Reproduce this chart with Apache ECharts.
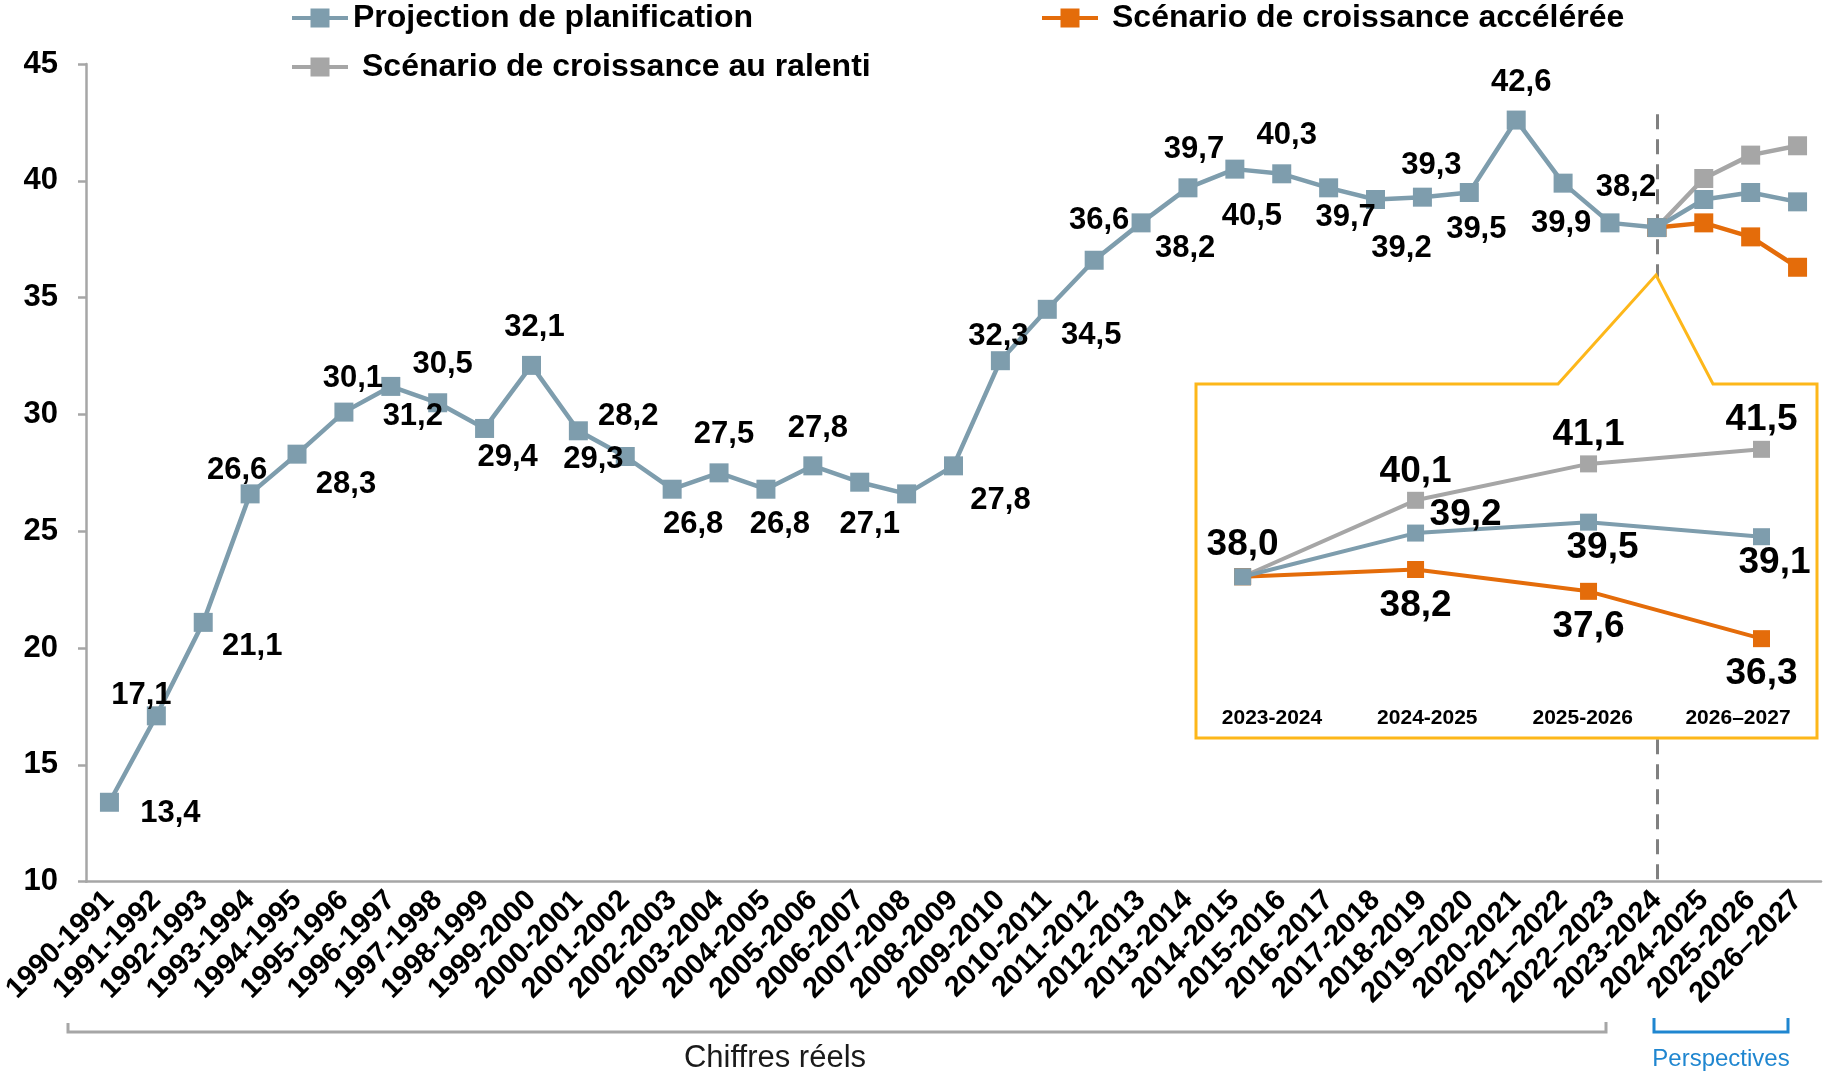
<!DOCTYPE html>
<html>
<head>
<meta charset="utf-8">
<script src="https://cdn.jsdelivr.net/npm/echarts@6/dist/echarts.min.js"></script>
<style>
  html, body { margin: 0; padding: 0; background: #fff; }
  #chart { width: 1825px; height: 1074px; }
</style>
</head>
<body>
<div id="chart"></div>
<script>
// categories (school years)
const categories = [
  '1990-1991', '1991-1992', '1992-1993', '1993-1994', '1994-1995', '1995-1996',
  '1996-1997', '1997-1998', '1998-1999', '1999-2000', '2000-2001', '2001-2002',
  '2002-2003', '2003-2004', '2004-2005', '2005-2006', '2006-2007', '2007-2008',
  '2008-2009', '2009-2010', '2010-2011', '2011-2012', '2012-2013', '2013-2014',
  '2014-2015', '2015-2016', '2016-2017', '2017-2018', '2018-2019', '2019–2020',
  '2020-2021', '2021–2022', '2022–2023', '2023-2024', '2024-2025', '2025-2026',
  '2026–2027'
]

// Projection de planification (actual figures up to 2023-2024, then projection)
const planValues = [
  13.4, 17.1, 21.1, 26.6, 28.3, 30.1, 31.2, 30.5, 29.4, 32.1, 29.3, 28.2,
  26.8, 27.5, 26.8, 27.8, 27.1, 26.6, 27.8, 32.3, 34.5, 36.6, 38.2, 39.7,
  40.5, 40.3, 39.7, 39.2, 39.3, 39.5, 42.6, 39.9, 38.2, 38.0, 39.2, 39.5,
  39.1
]

// scenarios, 2023-2024 to 2026-2027
const insetCategories = ['2023-2024', '2024-2025', '2025-2026', '2026–2027']
const fastValues = [38.0, 38.2, 37.6, 36.3]
const slowValues = [38.0, 40.1, 41.1, 41.5]

const yTicks = { min: 10, max: 45, interval: 5 }
const splitCategory = '2023-2024'

const names = {
  plan: 'Projection de planification',
  fast: 'Scénario de croissance accélérée',
  slow: 'Scénario de croissance au ralenti'
}

const colors = {
  plan: '#7E9DAD',
  fast: '#E46C0A',
  slow: '#A6A6A6',
  axis: '#A6A6A6',
  callout: '#FDB71A',
  persp: '#1F86D0'
}

const FONT = 'Liberation Sans, Arial, sans-serif'

// label placement (centre offset from the point, px); null = no label
const planLabelOffsets = [
  [61, 11], [-15, -20], [49, 24], [-13, -23], [49, 30], [9, -34],
  [22, 30], [5, -38], [23, 29], [3, -38], [15, 29], [3, -40],
  [21, 35], [5, -38], [14, 35], [5, -37], [10, 42], null,
  [47, 35], [-2, -24], [44, 26], [5, -40], [44, 26], [6, -38],
  [17, 47], [5, -38], [17, 30], [26, 49], [9, -32], [7, 37],
  [5, -38], [-2, 40], [16, -35], null, null, null, null
]
const insetPlanOffsets = [[0, -32], [50, -18], [14, 26], [13, 26]]
const insetSlowOffsets = [null, [0, -28], [0, -29], [0, -30]]
const insetFastOffsets = [null, [0, 36], [0, 35], [0, 35]]

const fmt = v => v.toFixed(1).replace('.', ',')

const withLabels = (values, offsets, size) => values.map((v, i) => ({
  value: v,
  label: offsets[i]
    ? { show: true, offset: offsets[i], fontSize: size }
    : { show: false }
}))

// pad scenario values so they line up with the last categories of the main axis
const padTo = (values) => categories.map((c, i) => {
  const k = i - (categories.length - values.length)
  return k >= 0 ? values[k] : '-'
})

const legendIcon = 'path://M0,7.5H18.5V0H37.5V7.5H56V11.5H37.5V19H18.5V11.5H0Z'

const legendItem = (name, left, top, gap) => ({
  data: [name],
  left: left,
  top: top,
  padding: 0,
  icon: legendIcon,
  itemWidth: 56,
  itemHeight: 19,
  selectedMode: false,
  textStyle: {
    fontSize: 32,
    fontWeight: 'bold',
    color: '#000',
    fontFamily: FONT,
    padding: [0, 0, 0, gap]
  }
})

const chart = echarts.init(document.getElementById('chart'))

const dataLabel = {
  show: true,
  position: 'inside',
  formatter: p => fmt(p.value),
  color: '#000',
  fontWeight: 'bold',
  fontFamily: FONT
}

const option = {
  animation: false,
  backgroundColor: '#fff',
  textStyle: { fontFamily: FONT },
  legend: [
    legendItem(names.plan, 292, 2, 0),
    legendItem(names.fast, 1042, 2, 9),
    legendItem(names.slow, 292, 51, 9)
  ],
  grid: [
    { left: 86, right: 4, top: 64, bottom: 192.3, outerBoundsMode: 'none' },
    { left: 1242.6, right: 63.5, top: 394.7, bottom: 388, outerBoundsMode: 'none' },
    { left: 1272, right: 87, top: 690, height: 10, outerBoundsMode: 'none' }
  ],
  xAxis: [
    {
      type: 'category',
      gridIndex: 0,
      data: categories,
      boundaryGap: true,
      axisLine: { lineStyle: { color: colors.axis, width: 2.5 } },
      axisTick: { alignWithLabel: true, length: 6, lineStyle: { color: colors.axis, width: 2.5 } },
      axisLabel: {
        interval: 0,
        rotate: 45,
        margin: 14,
        fontSize: 29,
        fontWeight: 'bold',
        color: '#000',
        fontFamily: FONT
      }
    },
    {
      type: 'category',
      gridIndex: 1,
      data: insetCategories,
      boundaryGap: false,
      show: false
    },
    {
      type: 'category',
      gridIndex: 2,
      data: insetCategories,
      boundaryGap: false,
      z: 20,
      axisLine: { show: false },
      axisTick: { show: false },
      axisLabel: {
        interval: 0,
        margin: 8,
        fontSize: 21,
        fontWeight: 'bold',
        color: '#000',
        fontFamily: FONT
      }
    }
  ],
  yAxis: [
    {
      type: 'value',
      gridIndex: 0,
      min: yTicks.min,
      max: yTicks.max,
      interval: yTicks.interval,
      splitLine: { show: false },
      axisLine: { show: true, lineStyle: { color: colors.axis, width: 2.5 } },
      axisTick: { show: true, length: 8, lineStyle: { color: colors.axis, width: 2.5 } },
      axisLabel: {
        margin: 28,
        fontSize: 31,
        fontWeight: 'bold',
        color: '#000',
        fontFamily: FONT
      }
    },
    { type: 'value', gridIndex: 1, min: 35, max: 43, show: false },
    { type: 'value', gridIndex: 2, show: false }
  ],
  series: [
    {
      name: names.slow,
      type: 'line',
      data: padTo(slowValues),
      symbol: 'rect',
      symbolSize: 19,
      color: colors.slow,
      lineStyle: { width: 4.5, color: colors.slow },
      label: { show: false },
      z: 3
    },
    {
      name: names.fast,
      type: 'line',
      data: padTo(fastValues),
      symbol: 'rect',
      symbolSize: 19,
      color: colors.fast,
      lineStyle: { width: 4.5, color: colors.fast },
      label: { show: false },
      z: 4
    },
    {
      name: names.plan,
      type: 'line',
      data: withLabels(planValues, planLabelOffsets, 31),
      symbol: 'rect',
      symbolSize: 19,
      color: colors.plan,
      lineStyle: { width: 4.5, color: colors.plan },
      label: dataLabel,
      z: 5,
      markLine: {
        silent: true,
        symbol: 'none',
        label: { show: false },
        lineStyle: { color: '#808080', width: 3, type: [15, 10] },
        data: [[{ coord: [splitCategory, 42.85] }, { coord: [splitCategory, yTicks.min] }]]
      }
    },
    // inset (zoom on the projections)
    {
      name: names.slow,
      type: 'line',
      xAxisIndex: 1,
      yAxisIndex: 1,
      data: withLabels(slowValues, insetSlowOffsets, 37),
      symbol: 'rect',
      symbolSize: 17,
      color: colors.slow,
      lineStyle: { width: 4, color: colors.slow },
      label: dataLabel,
      z: 20
    },
    {
      name: names.fast,
      type: 'line',
      xAxisIndex: 1,
      yAxisIndex: 1,
      data: withLabels(fastValues, insetFastOffsets, 37),
      symbol: 'rect',
      symbolSize: 17,
      color: colors.fast,
      lineStyle: { width: 4, color: colors.fast },
      label: dataLabel,
      z: 21
    },
    {
      name: names.plan,
      type: 'line',
      xAxisIndex: 1,
      yAxisIndex: 1,
      data: withLabels(planValues.slice(-insetCategories.length), insetPlanOffsets, 37),
      symbol: 'rect',
      symbolSize: 17,
      color: colors.plan,
      lineStyle: { width: 4, color: colors.plan },
      label: dataLabel,
      z: 22
    }
  ],
  graphic: [
    // callout box for the inset
    {
      type: 'polygon',
      z: 10,
      silent: true,
      shape: {
        points: [[1196, 384], [1558, 384], [1656, 275], [1713, 384], [1817, 384], [1817, 738], [1196, 738]]
      },
      style: { fill: '#fff', stroke: colors.callout, lineWidth: 3 }
    },
    // "Chiffres réels" bracket
    {
      type: 'polyline',
      silent: true,
      shape: { points: [[68, 1023], [68, 1032], [1606, 1032], [1606, 1022]] },
      style: { stroke: colors.axis, lineWidth: 3, fill: null }
    },
    {
      type: 'text',
      silent: true,
      x: 775,
      y: 1058,
      style: {
        text: 'Chiffres réels',
        fontSize: 31,
        fontFamily: FONT,
        fill: '#1a1a1a',
        align: 'center',
        verticalAlign: 'middle'
      }
    },
    // "Perspectives" bracket
    {
      type: 'polyline',
      silent: true,
      shape: { points: [[1654, 1018], [1654, 1032], [1788, 1032], [1788, 1018]] },
      style: { stroke: colors.persp, lineWidth: 3, fill: null }
    },
    {
      type: 'text',
      silent: true,
      x: 1721,
      y: 1059,
      style: {
        text: 'Perspectives',
        fontSize: 24,
        fontFamily: FONT,
        fill: colors.persp,
        align: 'center',
        verticalAlign: 'middle'
      }
    }
  ]
}

chart.setOption(option)
</script>
</body>
</html>
